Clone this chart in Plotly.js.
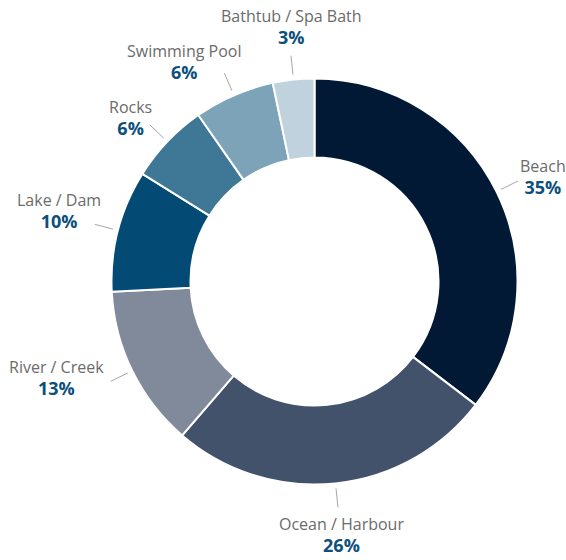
<!DOCTYPE html>
<html>
<head>
<meta charset="utf-8">
<script src="https://cdn.plot.ly/plotly-3.0.1.min.js"></script>
<style>html,body{margin:0;padding:0;background:#fff;}#chart{width:566px;height:560px;}</style>
</head>
<body>
<div id="chart"></div>
<script>
// ---- data ----
const categories = ["Beach", "Ocean / Harbour", "River / Creek", "Lake / Dam", "Rocks", "Swimming Pool", "Bathtub / Spa Bath"];
const shares = [35.4, 25.9, 12.9, 9.7, 6.4, 6.4, 3.3];

// ---- style ----
const sliceColors = ["#021936", "#42526a", "#808a9a", "#034b74", "#3f7797", "#7da3b9", "#c0d2dd"];
// label placement relative to the end of each leader line (pixels)
const labelStyle = [
  {xanchor: "left",   yanchor: "middle", dx: 0,  dy: -4},
  {xanchor: "center", yanchor: "top",    dx: 4,  dy: 4},
  {xanchor: "right",  yanchor: "middle", dx: -5, dy: -3},
  {xanchor: "right",  yanchor: "middle", dx: 8,  dy: -13},
  {xanchor: "right",  yanchor: "middle", dx: 4,  dy: -7},
  {xanchor: "right",  yanchor: "middle", dx: 19, dy: -11},
  {xanchor: "center", yanchor: "bottom", dx: 0,  dy: -5}
];

const W = 566, H = 560;
const cx = 314.5, cy = 281.5, R = 203, holeR = 124;
const domX = [(cx - R) / W, (cx + R) / W];
const domY = [1 - (cy + R) / H, 1 - (cy - R) / H];

const total = shares.reduce((a, b) => a + b, 0);
const shapes = [], annotations = [];
let cum = 0;
shares.forEach((v, i) => {
  const mid = (cum + v / 2) / total * 2 * Math.PI;
  cum += v;
  const p = r => [cx + r * Math.sin(mid), cy - r * Math.cos(mid)];
  const a = p(R + 5), b = p(R + 24);
  shapes.push({type: "line", xref: "paper", yref: "paper",
    x0: a[0] / W, y0: 1 - a[1] / H, x1: b[0] / W, y1: 1 - b[1] / H,
    line: {color: "#a6a6a6", width: 1}});
  const st = labelStyle[i];
  annotations.push({
    xref: "paper", yref: "paper", x: b[0] / W, y: 1 - b[1] / H,
    xanchor: st.xanchor, yanchor: st.yanchor, xshift: st.dx, yshift: -st.dy,
    showarrow: false, align: "center",
    font: {family: "Open Sans, sans-serif", size: 17, color: "#0d4f7c"},
    text: '<span style="font-size:16px;color:#6b6b6b;font-weight:normal">' + categories[i] + '</span><br><b><span style="font-size:18px">' + Math.round(v / total * 100) + '%</span></b>'
  });
});

const trace = {
  type: "pie",
  labels: categories,
  values: shares,
  hole: holeR / R,
  sort: false,
  direction: "clockwise",
  rotation: 0,
  textinfo: "none",
  hoverinfo: "label+percent",
  marker: {colors: sliceColors, line: {color: "#ffffff", width: 2}},
  domain: {x: domX, y: domY},
  showlegend: false
};

Plotly.newPlot("chart", [trace], {
  width: W, height: H,
  margin: {l: 0, r: 0, t: 0, b: 0},
  paper_bgcolor: "#ffffff",
  showlegend: false,
  shapes: shapes,
  annotations: annotations
}, {displayModeBar: false, staticPlot: true});
</script>
</body>
</html>
